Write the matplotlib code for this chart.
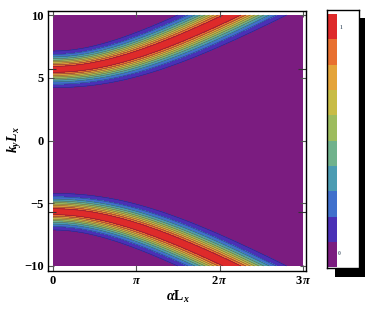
import numpy as np
import matplotlib
matplotlib.use("Agg")
import matplotlib.pyplot as plt
from matplotlib.patches import Rectangle

# ---- data / parameters ----
band_center_k0 = 5.67      # |k_y L_x| of band centre at alpha L_x = 0
band_slope = 1.22          # asymptotic slope of the hyperbolic band
band_halfwidth = 1.46      # perpendicular half width at the 0.1 level
band_power = 1.7           # profile sharpness
alpha_max = 3 * np.pi
ky_max = 10.0

levels = [0.0, 0.1, 0.2, 0.3, 0.4, 0.5, 0.6, 0.7, 0.8, 0.9, 1.0]
colors = ['#7B1C80', '#4A30B6', '#4070CC', '#4C9CB2', '#70B28C',
          '#9DBC5E', '#C8BC46', '#E4A43A', '#E87030', '#DE2A2A']

x_ticks = [0, np.pi, 2 * np.pi, 3 * np.pi]
x_ticklabels = [r'$\mathbf{0}$', r'$\pi$', r'$\mathbf{2}\,\pi$', r'$\mathbf{3}\,\pi$']
y_ticks = [-10, -5, 0, 5, 10]
y_ticklabels = ['\u221210', '\u22125', '0', '5', '10']
extra_y_ticks = [-band_center_k0, band_center_k0]

# ---- field ----
a = np.linspace(0, alpha_max, 500)
k = np.linspace(-ky_max, ky_max, 800)
A, K = np.meshgrid(a, k)
c = np.sqrt(band_center_k0**2 + (band_slope * A)**2)
dc = band_slope**2 * A / c
scale = np.sqrt(1 + dc**2)
s = band_halfwidth / np.log(10) ** (1 / band_power)
F = (np.exp(-(np.abs(K - c) / scale / s) ** band_power) +
     np.exp(-(np.abs(K + c) / scale / s) ** band_power))
F = np.clip(F, 0, 1)

plt.rcParams['mathtext.fontset'] = 'custom'
plt.rcParams['mathtext.rm'] = 'Liberation Serif:bold'
plt.rcParams['mathtext.it'] = 'Liberation Serif:italic:bold'
plt.rcParams['mathtext.bf'] = 'Liberation Serif:bold'
plt.rcParams['font.family'] = 'Liberation Serif'
plt.rcParams['font.weight'] = 'bold'

W, H = 374, 313
fig = plt.figure(figsize=(W / 100, H / 100), dpi=100)

def px_axes(x0, y0, x1, y1):
    return [x0 / W, 1 - y1 / H, (x1 - x0) / W, (y1 - y0) / H]

ax = fig.add_axes(px_axes(48, 10.7, 306, 270.7))
ax.contourf(A, K, F, levels=levels, colors=colors)
ax.contour(A, K, F, levels=levels[1:-1], colors='#1A1A40', linewidths=0.4, alpha=0.55)

px_per_x = 250 / alpha_max
ax.set_xlim(0 - 5 / px_per_x, alpha_max + 3 / px_per_x)
ax.set_ylim(-10 - 4.7 / 12.55, 10 + 4.3 / 12.55)

ax.set_xticks(x_ticks)
ax.set_xticklabels(x_ticklabels, fontsize=9)
ax.set_yticks(y_ticks)
ax.set_yticklabels(y_ticklabels, fontsize=9, fontweight='bold')
ax.set_yticks(extra_y_ticks, minor=True)
ax.tick_params(which='major', direction='in', length=4, width=0.8, color='#555555',
               top=True, right=True, pad=3)
ax.tick_params(which='minor', direction='in', length=6, width=0.8, color='#333333',
               left=True, right=True)
for sp in ax.spines.values():
    sp.set_linewidth(1.0)
    sp.set_color('black')

fig.text(178 / W, 1 - 297 / H, r'$\alpha\mathbf{L}_x$', fontsize=10, ha='center', va='center')
fig.text(15 / W, 1 - 140 / H, r'$k_y L_x$', fontsize=10, ha='center', va='center', rotation=90)

# ---- colour bar ----
shadow = Rectangle((335 / W, 1 - 276.7 / H), 30 / W, (276.7 - 18) / H,
                   transform=fig.transFigure, facecolor='black', edgecolor='none', zorder=1)
fig.add_artist(shadow)
cax = fig.add_axes(px_axes(327.3, 9.7, 359, 268.3))
cax.set_zorder(2)
cax.set_facecolor('white')
cax.set_xlim(0, 1)
cax.set_ylim(-1.0 / 253.3, 1 + 4.3 / 253.3)
cax.bar([0] * 10, [0.1] * 10, bottom=levels[:-1], width=10 / 31.7, align='edge',
        color=colors, edgecolor='none')
cax.set_xticks([])
cax.set_yticks([])
for sp in cax.spines.values():
    sp.set_linewidth(1.0)
    sp.set_color('black')
cax.text(13.5 / 31.7, 0.945, '1', fontsize=4, color='#556677', ha='center', va='center')
cax.text(11.5 / 31.7, 0.055, '0', fontsize=4, color='#556677', ha='center', va='center')

fig.savefig('out.png', dpi=100)
